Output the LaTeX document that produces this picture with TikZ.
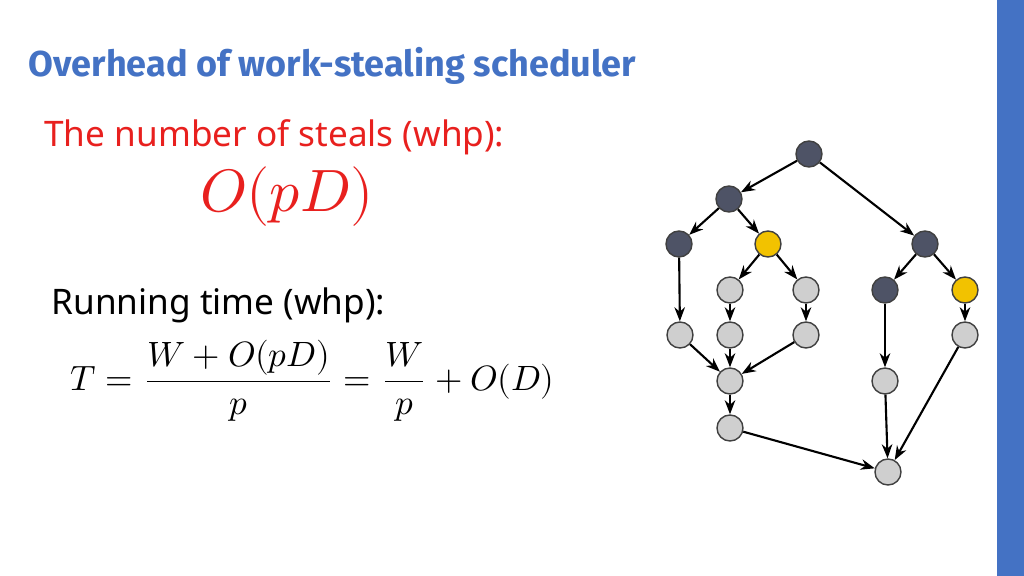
\documentclass[tikz,border=0pt]{standalone}
\usepackage{amsmath}
\usepackage{fontspec}
\setmainfont{Noto Sans}
\newfontfamily\titlefont{Fira Sans}
\usepackage{unicode-math}
\setmathfont{Latin Modern Math}
\usetikzlibrary{arrows.meta,positioning}
\definecolor{titleblue}{HTML}{4472C4}
\definecolor{stealred}{HTML}{E8201E}
\definecolor{darknode}{HTML}{4E5366}
\definecolor{goldnode}{HTML}{F2C200}
\definecolor{lightnode}{HTML}{CFCFCF}

\begin{document}
\begin{tikzpicture}[x=0.01cm,y=-0.01cm,
  vtx/.style={circle,draw=black!75,minimum size=0.26cm,inner sep=0pt,thin},
  dk/.style={vtx,fill=darknode},
  gd/.style={vtx,fill=goldnode},
  lt/.style={vtx,fill=lightnode},
  arr/.style={-{Stealth[length=4pt,width=3pt]},semithick}
]
\useasboundingbox (0,0) rectangle (1024,576);
\fill[titleblue] (997,0) rectangle (1024,576);

% text
\node[anchor=west,inner sep=0pt,text=titleblue] (title) at (28,66) {\resizebox{6.07cm}{!}{\titlefont\bfseries Overhead of work-stealing scheduler}};
\node[anchor=west,text=stealred,font=\fontsize{10}{12}\selectfont] (steals) at (32,137) {The number of steals (whp):};
\node[text=stealred,font=\fontsize{17}{20}\selectfont] (bound) at (287,197) {$O(pD)$};
\node[anchor=west,font=\fontsize{10}{12}\selectfont] (runtime) at (39,305) {Running time (whp):};
\node[anchor=west,font=\fontsize{10}{12}\selectfont] (eqn) at (58,381) {$T=\dfrac{W+O(pD)}{p}=\dfrac{W}{p}+O(D)$};

% dag
\node[dk] (r) at (809,154) {};
\node[dk] (a) at (729,199) {};
\node[dk] (b) at (679,244) {};
\node[gd] (c) at (768,244) {};
\node[dk] (d) at (925,244) {};
\node[lt] (e) at (730,290) {};
\node[lt] (f) at (806,290) {};
\node[dk] (g) at (885,290) {};
\node[gd] (h) at (965,290) {};
\node[lt] (i) at (680,335) {};
\node[lt] (j) at (730,335) {};
\node[lt] (k) at (806,335) {};
\node[lt] (l) at (965,335) {};
\node[lt] (m) at (730,381) {};
\node[lt] (n) at (885,381) {};
\node[lt] (o) at (730,428) {};
\node[lt] (p) at (888,472) {};

\foreach \s/\t in {r/a,r/d,a/b,a/c,c/e,c/f,d/g,d/h,b/i,e/j,f/k,h/l,i/m,j/m,k/m,g/n,m/o,o/p,n/p,l/p}
  \draw[arr] (\s) -- (\t);
\end{tikzpicture}
\end{document}
